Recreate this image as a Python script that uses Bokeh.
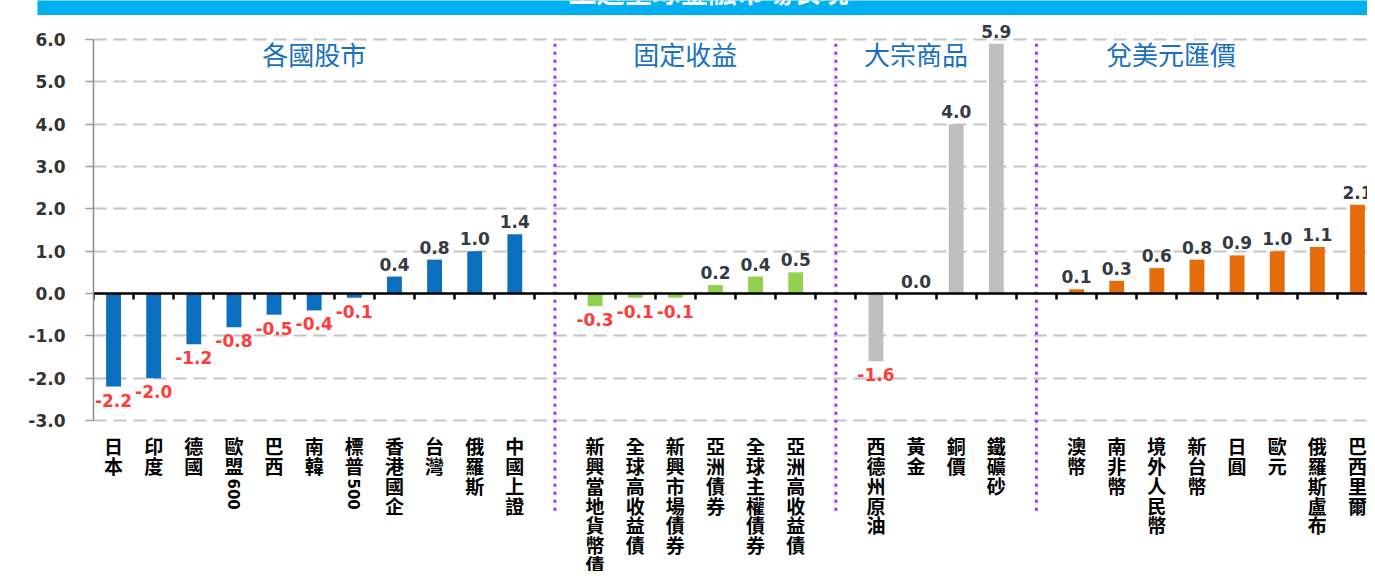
import math
from bokeh.plotting import figure
from bokeh.layouts import column
from bokeh.models import (ColumnDataSource, LabelSet, Label, Range1d, FixedTicker,
                          LinearAxis, PrintfTickFormatter)
from bokeh.core.properties import value
from bokeh.embed import file_html
from bokeh.resources import INLINE

# ---------------- data ----------------
banner_title = "上週全球金融市場表現"
group_titles = ["各國股市", "固定收益", "大宗商品", "兌美元匯價"]

stock_names = ["日本", "印度", "德國", "歐盟600", "巴西", "南韓", "標普500",
               "香港國企", "台灣", "俄羅斯", "中國上證"]
stock_vals = [-2.2, -2.0, -1.2, -0.8, -0.5, -0.4, -0.1, 0.4, 0.8, 1.0, 1.4]

bond_names = ["新興當地貨幣債", "全球高收益債", "新興市場債券", "亞洲債券",
              "全球主權債券", "亞洲高收益債"]
bond_vals = [-0.3, -0.1, -0.1, 0.2, 0.4, 0.5]

comm_names = ["西德州原油", "黃金", "銅價", "鐵礦砂"]
comm_vals = [-1.6, 0.0, 4.0, 5.9]

fx_names = ["澳幣", "南非幣", "境外人民幣", "新台幣", "日圓", "歐元",
            "俄羅斯盧布", "巴西里爾"]
fx_vals = [0.1, 0.3, 0.6, 0.8, 0.9, 1.0, 1.1, 2.1]

y_ticks = [-3, -2, -1, 0, 1, 2, 3, 4, 5, 6]

group_colors = ["#0a6fbf", "#92d050", "#bfbfbf", "#e46c0a"]
title_x = [5.5, 14.75, 20.5, 26.85]

# ---------------- slots ----------------
groups = [(stock_names, stock_vals), (bond_names, bond_vals),
          (comm_names, comm_vals), (fx_names, fx_vals)]
xs, vals, names, colors, seps = [], [], [], [], []
slot = 0
for gi, (nm, vv) in enumerate(groups):
    if gi > 0:
        seps.append(slot + 0.5)
        slot += 1
    for n, v in zip(nm, vv):
        xs.append(slot + 0.5)
        vals.append(v)
        names.append(n)
        colors.append(group_colors[gi])
        slot += 1

W = 1367

# ---------------- banner ----------------
b = figure(width=W, height=15, output_backend="svg", toolbar_location=None,
           x_range=Range1d(0, W - 37), y_range=Range1d(0, 15),
           x_axis_location=None, y_axis_location=None,
           min_border_left=37, min_border_right=0, min_border_top=0, min_border_bottom=0)
b.frame_align = False
b.outline_line_color = None
b.xgrid.visible = False
b.ygrid.visible = False
b.background_fill_color = "#00b0f0"
b.add_layout(Label(x=671, y=25, text=banner_title, text_align="center",
                   text_baseline="alphabetic", text_font="Noto Sans CJK TC",
                   text_font_style="bold", text_font_size="28px", text_color="white"))

# ---------------- main ----------------
src = ColumnDataSource(dict(x=xs, v=vals, c=colors))

p = figure(width=W, height=556, output_backend="svg", toolbar_location=None,
           x_range=Range1d(0, 31.75), y_range=Range1d(-6.57, 6.57),
           x_axis_location=None, min_border_left=93, min_border_right=0,
           min_border_top=0, min_border_bottom=0)
p.frame_align = False
p.outline_line_color = None

p.xgrid.visible = False
p.ygrid.ticker = FixedTicker(ticks=y_ticks)
p.ygrid.grid_line_color = "#c4c4c4"
p.ygrid.grid_line_width = 2
p.ygrid.grid_line_dash = "13 7"

ya = p.yaxis[0]
ya.ticker = FixedTicker(ticks=y_ticks)
ya.formatter = PrintfTickFormatter(format="%.1f")
ya.bounds = (-3, 6)
ya.axis_line_color = "#8c8c8c"
ya.axis_line_width = 1.5
ya.major_tick_line_color = "#a0a0a0"
ya.major_tick_line_width = 1.5
ya.major_tick_out = 8
ya.major_tick_in = 0
ya.minor_tick_line_color = None
ya.major_label_standoff = 20
ya.major_label_text_font = "DejaVu Sans"
ya.major_label_text_font_style = "bold"
ya.major_label_text_font_size = "17px"
ya.major_label_text_color = "#333333"

# separators
p.segment(x0=seps, y0=[5.9] * len(seps), x1=seps, y1=[-5.2] * len(seps),
          line_color="#9b35ff", line_width=3, line_dash="3 5")

# bars
p.vbar(x="x", top="v", bottom=0, width=0.37, fill_color="c", line_color=None, source=src)

# zero axis with slot ticks
xa = LinearAxis(fixed_location=0, ticker=FixedTicker(ticks=list(range(0, 33))))
xa.axis_line_color = "black"
xa.axis_line_width = 2.5
xa.major_tick_in = 6
xa.major_tick_out = 0
xa.major_tick_line_color = "black"
xa.major_tick_line_width = 2.5
xa.minor_tick_line_color = None
xa.major_label_text_font_size = "1px"
xa.major_label_text_alpha = 0
xa.major_label_standoff = 0
p.add_layout(xa, "above")

# value labels
pos = [i for i, v in enumerate(vals) if v >= 0]
neg = [i for i, v in enumerate(vals) if v < 0]
pos_src = ColumnDataSource(dict(x=[xs[i] for i in pos], y=[vals[i] for i in pos],
                                t=["%.1f" % vals[i] for i in pos]))
neg_src = ColumnDataSource(dict(x=[xs[i] for i in neg], y=[vals[i] for i in neg],
                                t=["%.1f" % vals[i] for i in neg]))
common = dict(text_font=value("DejaVu Sans"), text_font_style="bold",
              text_font_size="17px", text_align="center")
p.add_layout(LabelSet(x="x", y="y", text="t", source=pos_src, y_offset=6,
                      text_baseline="bottom", text_color="#333a44", **common))
p.add_layout(LabelSet(x="x", y="y", text="t", source=neg_src, y_offset=-7,
                      text_baseline="top", text_color="#ff3c3c", **common))

# category labels (vertical CJK, rotated digits)
line_px = 20
lab_off = 12
cjk_t, cjk_x, dig_t, dig_x, dig_off = [], [], [], [], []
for x, n in zip(xs, names):
    cjk = "".join(ch for ch in n if not ch.isdigit())
    dig = "".join(ch for ch in n if ch.isdigit())
    cjk_t.append("\n".join(cjk))
    cjk_x.append(x)
    if dig:
        dig_t.append(dig)
        dig_x.append(x)
        dig_off.append(-(lab_off + len(cjk) * line_px + 6))
cat_src = ColumnDataSource(dict(x=cjk_x, y=[-3] * len(cjk_x), t=cjk_t))
p.add_layout(LabelSet(x="x", y="y", text="t", source=cat_src, y_offset=-lab_off,
                      text_align="center", text_baseline="top",
                      text_font=value("Noto Sans CJK TC"), text_font_style="bold",
                      text_font_size="19px", text_line_height=0.73, text_color="black"))
for x, t, off in zip(dig_x, dig_t, dig_off):
    p.add_layout(Label(x=x, y=-3, text=t, y_offset=off, angle=-math.pi / 2,
                       text_align="left", text_baseline="middle",
                       text_font="DejaVu Sans", text_font_style="bold",
                       text_font_size="15px", text_color="black"))

# group titles
for tx, tt in zip(title_x, group_titles):
    p.add_layout(Label(x=tx, y=5.67, text=tt, text_align="center", text_baseline="middle",
                       text_font="Noto Sans CJK TC", text_font_size="26px",
                       text_color="#1a70c0"))

layout = column(b, p, spacing=0)
open("out.html", "w").write(file_html(layout, INLINE))
